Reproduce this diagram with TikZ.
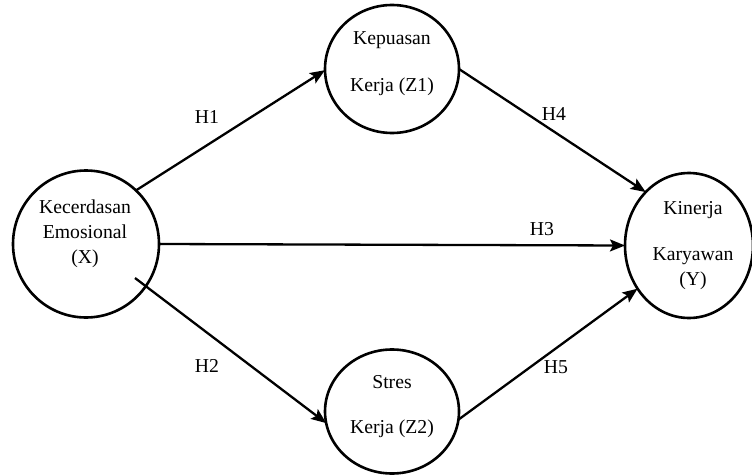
\documentclass[tikz,border=0pt]{standalone}
\usepackage{fontspec}
\setmainfont{Liberation Serif}
\usetikzlibrary{shapes.geometric,arrows.meta}
\begin{document}
\begin{tikzpicture}[x=1pt,y=-1pt,
  var/.style={draw=black,line width=2.6pt,ellipse,inner sep=0pt,outer sep=0pt},
  txt/.style={anchor=base,inner sep=0pt,font=\fontsize{19.7}{24}\selectfont},
  conn/.style={draw=black,line width=2.3pt,-{Stealth[length=15pt,width=12pt,inset=3pt]}},
  lbl/.style={anchor=base,inner sep=0pt,font=\fontsize{19.7}{24}\selectfont}]
\useasboundingbox (0,0) rectangle (752,476);
% variables
\node[var,minimum width=146pt,minimum height=147pt] (X) at (86,244) {};
\node[var,minimum width=128pt,minimum height=145pt] (Y) at (689,245.5) {};
\node[var,minimum width=134pt,minimum height=128pt] (Z1) at (392,69) {};
\node[var,minimum width=134pt,minimum height=124pt] (Z2) at (392,411.5) {};
% texts
\node[txt] (x1) at (85,213) {Kecerdasan};
\node[txt] (x2) at (85,238) {Emosional};
\node[txt] (x3) at (85,263) {(X)};
\node[txt] (z11) at (392,45) {Kepuasan};
\node[txt] (z12) at (392,92) {Kerja (Z1)};
\node[txt] (z21) at (392,388) {Stres};
\node[txt] (z22) at (392,433) {Kerja (Z2)};
\node[txt] (y1) at (693,214) {Kinerja};
\node[txt] (y2) at (693,260) {Karyawan};
\node[txt] (y3) at (693,285) {(Y)};
% connectors
\coordinate (x2s) at (135,278);
\draw[conn] (X.47) -- (Z1.181);
\draw[conn] (X.east) -- (Y.west);
\draw[conn] (x2s) -- (Z2.190);
\draw[conn] (Z1.east) -- (Y.129);
\draw[conn] (Z2.353) -- (Y.220);
% labels
\node[lbl] (h1) at (207,124) {H1};
\node[lbl] (h4) at (554,121) {H4};
\node[lbl] (h3) at (542,235) {H3};
\node[lbl] (h2) at (207,372) {H2};
\node[lbl] (h5) at (556,373) {H5};
\end{tikzpicture}
\end{document}
